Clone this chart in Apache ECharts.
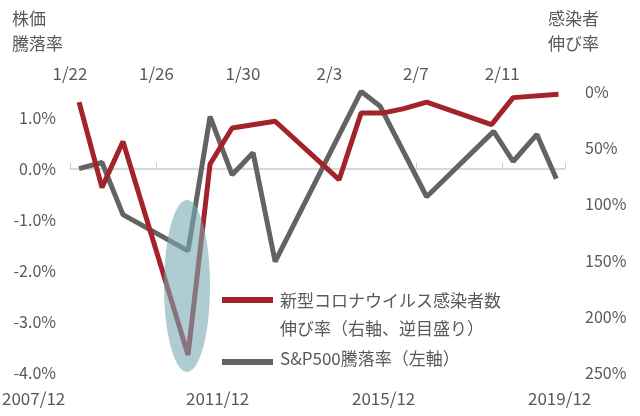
<!DOCTYPE html>
<html>
<head>
<meta charset="utf-8">
<script src="https://cdn.jsdelivr.net/npm/echarts@6/dist/echarts.min.js"></script>
<style>
  html, body { margin: 0; padding: 0; background: #fff; }
  #main { width: 640px; height: 416px; }
</style>
</head>
<body>
<div id="main"></div>
<script>
// x = days since 1/22
const dateTicks = ['1/22', '1/26', '1/30', '2/3', '2/7', '2/11'];
const bottomLabels = ['2007/12', '2011/12', '2015/12', '2019/12'];

const spX = [0.42, 1.48, 2.45, 5.46, 6.48, 7.5, 8.47, 9.49, 13.47, 14.35, 16.5, 19.6, 20.5, 21.6, 22.5];
const spVal = [0.0, 0.12, -0.9, -1.61, 1.02, -0.12, 0.31, -1.82, 1.51, 1.22, -0.55, 0.73, 0.14, 0.67, -0.2];

const covX = [0.42, 1.48, 2.45, 5.46, 6.48, 7.5, 9.49, 12.45, 13.47, 14.5, 15.4, 16.5, 19.5, 20.5, 22.6];
const covVal = [9, 85, 44, 234, 64, 32, 26, 78, 18.6, 18.6, 15, 9, 29, 5, 2];

const chart = echarts.init(document.getElementById('main'));
const txt = '#595959';
const font = 'Noto Sans CJK JP';

chart.setOption({
  animation: false,
  textStyle: { fontFamily: font },
  grid: { left: 70, right: 75, top: 92, bottom: 43 },
  xAxis: {
    type: 'value', position: 'top', min: 0, max: 22.9, interval: 4,
    axisLine: { lineStyle: { color: '#cccccc', width: 1.5 } },
    axisTick: { show: true, length: 6, lineStyle: { color: '#cccccc' } },
    splitLine: { show: false },
    axisLabel: {
      color: txt, fontSize: 17, margin: 10,
      formatter: v => dateTicks[v / 4] || ''
    }
  },
  yAxis: [{
    type: 'value', min: -4, max: 1.5, interval: 1,
    axisLine: { show: false }, axisTick: { show: false }, splitLine: { show: false },
    axisLabel: {
      color: txt, fontSize: 16, margin: 14, showMaxLabel: false,
      formatter: v => v.toFixed(1) + '%'
    }
  }, {
    type: 'value', inverse: true, min: 0, max: 250, interval: 50,
    axisLine: { show: false }, axisTick: { show: false }, splitLine: { show: false },
    axisLabel: { color: txt, fontSize: 16, margin: 20, formatter: '{value}%' }
  }],
  series: [{
    name: 'S&P500騰落率（左軸）', type: 'line', yAxisIndex: 0,
    data: spX.map((x, i) => [x, spVal[i]]),
    showSymbol: false, z: 2,
    lineStyle: { color: '#636363', width: 5 }
  }, {
    name: '新型コロナウイルス感染者数伸び率（右軸、逆目盛り）', type: 'line', yAxisIndex: 1,
    data: covX.map((x, i) => [x, covVal[i]]),
    showSymbol: false, z: 3,
    lineStyle: { color: '#a3232b', width: 5 }
  }],
  graphic: [
    { type: 'ellipse', shape: { cx: 187, cy: 286, rx: 23, ry: 86 },
      style: { fill: 'rgba(120,170,180,0.6)' }, z: 10 },
    { type: 'text', left: 12, top: 6, style: { text: '株価\n騰落率', fill: txt, font: '17px ' + font, lineHeight: 25 } },
    { type: 'text', left: 548, top: 6, style: { text: '感染者\n伸び率', fill: txt, font: '17px ' + font, lineHeight: 25 } },
    { type: 'line', shape: { x1: 222, y1: 300, x2: 273, y2: 300 }, style: { stroke: '#a3232b', lineWidth: 6 }, z: 11 },
    { type: 'text', left: 280, top: 287, style: { text: '新型コロナウイルス感染者数\n伸び率（右軸、逆目盛り）', fill: txt, font: '17px ' + font, lineHeight: 28 }, z: 11 },
    { type: 'line', shape: { x1: 222, y1: 362, x2: 273, y2: 362 }, style: { stroke: '#636363', lineWidth: 6 }, z: 11 },
    { type: 'text', left: 280, top: 350, style: { text: 'S&P500騰落率（左軸）', fill: txt, font: '17px ' + font }, z: 11 },
    { type: 'text', left: 2, top: 390, style: { text: bottomLabels[0], fill: txt, font: '17px ' + font } },
    { type: 'text', left: 186, top: 390, style: { text: bottomLabels[1], fill: txt, font: '17px ' + font } },
    { type: 'text', left: 352, top: 390, style: { text: bottomLabels[2], fill: txt, font: '17px ' + font } },
    { type: 'text', left: 528, top: 390, style: { text: bottomLabels[3], fill: txt, font: '17px ' + font } }
  ]
});
</script>
</body>
</html>
